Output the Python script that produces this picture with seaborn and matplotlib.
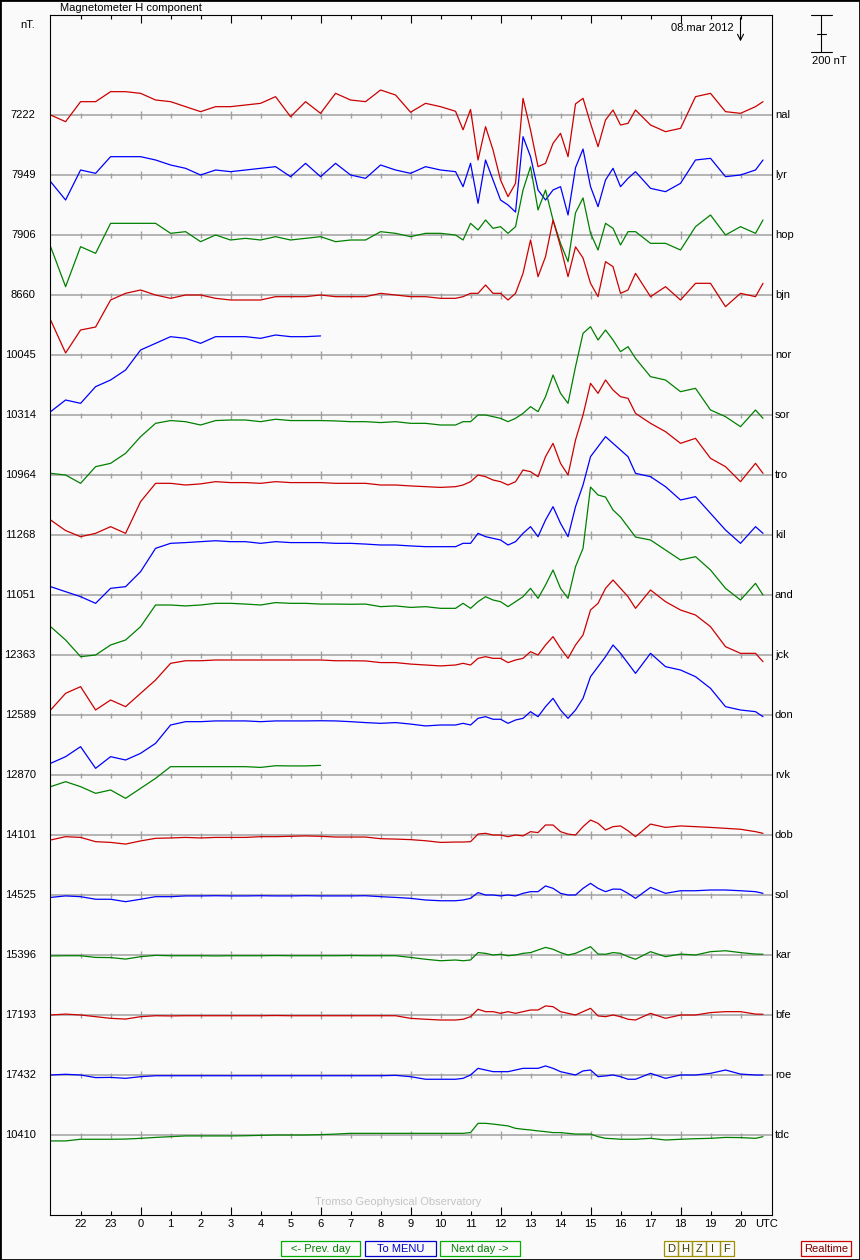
#!/usr/bin/env python3
"""
Magnetometer H component stack plot (Tromso style), 08.mar 2012
"""

import numpy as np
import pandas as pd
import matplotlib.pyplot as plt
import seaborn as sns
from matplotlib.patches import Rectangle

# Time axis: hours relative to 00 UTC 08.mar (-3 = 21 UTC the day before)
HOURS = np.concatenate([np.arange(-3, 10.75, 0.5), np.arange(10.75, 16.75, 0.25),
                        np.arange(17, 21, 0.5), [20.75]])

STATIONS = ['nal', 'lyr', 'hop', 'bjn', 'nor', 'sor', 'tro', 'kil', 'and',
            'jck', 'don', 'rvk', 'dob', 'sol', 'kar', 'bfe', 'roe', 'tdc']
BASELINES = [7222, 7949, 7906, 8660, 10045, 10314, 10964, 11268, 11051,
             12363, 12589, 12870, 14101, 14525, 15396, 17193, 17432, 10410]

# deviations from baseline (nT)
nal = ([0, -36, 72, 72, 126, 126, 117, 81, 72, 45, 18, 45, 45, 54, 63, 99, -9, 72, 9, 117, 81, 72, 135, 108, 15, 63, 45, 20]
       + [-80, 30, -243, -63, -189, -351, -441, -369, 90, -81, -279, -261, -153, -99, -225, 60, 90, -45, -171, -27, 27, -54, -45, 27]
       + [-54, -90, -72, 99, 117, 18, 9, 45] + [72])
lyr = ([-36, -135, 27, 9, 99, 99, 99, 81, 54, 36, 0, 27, 18, 27, 36, 45, -9, 63, -9, 63, 0, -18, 54, 27, 9, 45, 27, 18]
       + [-63, 63, -153, 81, -27, -135, -162, -200, 207, 99, -81, -135, -81, -63, -216, 40, 140, -63, -171, -27, 36, -63, -18, 18]
       + [-72, -90, -45, 81, 90, -9, 0, 27] + [81])
hop = ([-63, -279, -63, -99, 63, 63, 63, 63, 9, 18, -36, 0, -27, -18, -27, -9, -27, -18, -9, -36, -27, -27, 18, 9, -9, 9, 9, 0]
       + [-27, 63, 27, 81, 36, 45, 9, 45, 243, 369, 135, 243, 81, -45, -144, 120, 200, 9, -81, 63, 36, -54, 18, 18]
       + [-45, -45, -81, 45, 108, 0, 45, 9] + [81])
bjn = ([-135, -313, -189, -173, -27, 9, 27, 0, -18, 0, 0, -18, -27, -27, -27, -9, -9, -9, 0, -9, -9, -9, 9, 0, -9, -9, -18, -18]
       + [-9, 9, 9, 54, 9, 9, -27, 9, 117, 297, 99, 207, 405, 261, 99, 260, 200, 63, -9, 180, 153, 9, 27, 117]
       + [-9, 45, -27, 63, 63, -63, 9, -9] + [63])
nor = [-306, -243, -261, -171, -135, -81, 27, 63, 99, 90, 63, 99, 99, 99, 90, 108, 99, 99, 103]
sor = ([-315, -324, -369, -279, -261, -207, -117, -45, -30, -36, -54, -30, -27, -27, -36, -23, -30, -30, -30, -32, -36, -36, -41, -36, -45, -45, -54, -54]
       + [-36, -36, 0, 0, -9, -18, -36, -18, 9, 45, 18, 99, 216, 117, 63, 261, 441, 477, 405, 459, 405, 342, 369, 306]
       + [207, 189, 126, 144, 27, -9, -63, 27] + [-18])
tro = ([-243, -300, -333, -315, -279, -315, -144, -45, -45, -54, -48, -36, -41, -41, -45, -36, -41, -41, -41, -45, -45, -45, -54, -54, -59, -63, -67, -63]
       + [-54, -36, 0, -9, -27, -36, -54, -36, 27, 18, -9, 99, 171, 63, 0, 189, 324, 495, 441, 513, 459, 423, 414, 333]
       + [279, 234, 171, 198, 90, 45, -36, 63] + [9])
kil = ([-279, -306, -333, -369, -288, -279, -198, -72, -45, -41, -36, -31, -36, -36, -45, -36, -41, -41, -41, -45, -45, -49, -54, -54, -59, -63, -63, -63]
       + [-45, -45, 9, -9, -18, -27, -54, -36, 9, 45, -9, 81, 153, 63, -9, 153, 270, 423, 477, 531, 495, 459, 423, 333]
       + [315, 261, 189, 207, 117, 27, -45, 45] + [9])
and_ = ([-171, -243, -333, -324, -270, -243, -171, -54, -54, -59, -54, -45, -45, -49, -54, -41, -45, -45, -49, -49, -50, -49, -63, -59, -67, -63, -72, -72]
        + [-45, -72, -36, -9, -27, -36, -63, -36, -9, 36, -18, 54, 135, 36, -18, 153, 252, 583, 540, 529, 459, 421, 367, 313]
        + [297, 243, 189, 207, 135, 36, -27, 63] + [0])
jck = ([-297, -207, -171, -297, -243, -279, -207, -135, -45, -31, -31, -27, -27, -27, -27, -27, -27, -27, -27, -31, -31, -32, -41, -41, -49, -54, -59, -54]
       + [-45, -54, -18, -9, -18, -18, -41, -27, -18, 18, 0, 54, 99, 36, -18, 54, 108, 243, 279, 360, 405, 360, 315, 252]
       + [351, 288, 243, 216, 153, 45, 9, 9] + [-36])
don = ([-261, -225, -171, -288, -225, -243, -207, -153, -54, -36, -36, -32, -32, -32, -36, -32, -32, -32, -31, -32, -36, -41, -45, -41, -49, -59, -54, -54]
       + [-45, -54, -18, -9, -23, -23, -45, -27, -18, 18, -9, 45, 90, 27, -18, 27, 90, 207, 261, 315, 378, 333, 279, 225]
       + [333, 261, 243, 207, 144, 45, 27, 18] + [-9])
rvk = [-63, -36, -63, -99, -81, -126, -72, -18, 45, 45, 45, 45, 45, 45, 41, 50, 49, 49, 52]
dob = ([-27, -9, -13, -36, -40, -49, -32, -18, -16, -13, -16, -13, -13, -13, -9, -9, -7, -5, -7, -11, -11, -11, -20, -22, -25, -31, -40, -38]
       + [-38, -36, 5, 9, 0, 0, -9, 0, -5, 18, 13, 54, 54, 18, 5, 0, 45, 81, 63, 27, 45, 49, 23, -9]
       + [59, 41, 49, 45, 41, 36, 31, 18] + [9])
sol = ([-13, -5, -9, -23, -23, -36, -23, -9, -9, -5, -5, -4, -5, -5, -4, -5, -5, -4, -5, -5, -5, -4, -9, -13, -18, -27, -31, -31]
       + [-27, -18, 13, 0, 0, -5, 0, -5, 9, 18, 18, 49, 36, 9, 0, 0, 36, 63, 36, 18, 32, 31, 9, -18]
       + [41, 9, 23, 23, 27, 27, 23, 18] + [9])
kar = ([-5, -4, -4, -13, -14, -22, -9, -2, -4, -4, -4, -5, -4, -4, -4, -3, -4, -4, -4, -4, -3, -4, -4, -4, -13, -23, -31, -27]
       + [-31, -27, 13, 9, 0, 4, -4, 0, 9, 13, 27, 41, 31, 13, 0, 9, 27, 45, 5, 4, 13, 9, -9, -23]
       + [18, -9, 5, 0, 18, 23, 13, 5] + [4])
bfe = ([0, 5, 0, -9, -18, -22, -9, -4, -5, -4, -4, -4, -4, -4, -4, -3, -4, -4, -4, -4, -4, -4, -4, -4, -18, -23, -27, -27]
       + [-23, -9, 31, 18, 18, 9, 18, 9, 18, 27, 27, 49, 45, 18, 9, 0, 18, 36, -5, -9, 0, -9, -23, -27]
       + [9, -18, 0, 0, 13, 18, 18, 5] + [4])
roe = ([0, 4, 0, -14, -13, -18, -9, -4, -4, -4, -4, -4, -4, -4, -4, -4, -4, -4, -4, -4, -4, -4, -4, -2, -9, -23, -23, -23]
       + [-18, 0, 36, 27, 18, 18, 18, 27, 36, 36, 36, 49, 36, 18, 9, 0, 22, 27, -9, -5, 0, -9, -23, -23]
       + [9, -18, 0, 0, 9, 27, 5, 0] + [0])
tdc = ([-32, -32, -23, -23, -23, -22, -18, -13, -9, -5, -5, -5, -5, -4, -2, 0, 0, 0, 2, 5, 9, 9, 9, 9, 9, 9, 9, 9]
       + [9, 13, 63, 63, 59, 54, 49, 36, 31, 27, 22, 18, 13, 13, 9, 5, 5, 5, -9, -18, -20, -23, -23, -23]
       + [-18, -27, -23, -20, -18, -13, -14, -18] + [-9])

TRACES = [nal, lyr, hop, bjn, nor, sor, tro, kil, and_, jck, don, rvk, dob, sol, kar, bfe, roe, tdc]

HOUR_TICKS = list(range(-2, 21))
SCALE_NT = 200
DATE_LABEL = '08.mar 2012'
DATE_HOUR = 20

ROW_STEP = 324          # nT between two station baselines
TOP_MARGIN = 540        # nT above first baseline
BOTTOM_MARGIN = 432     # nT below last baseline
COLORS = ['#cc0000', '#0000ff', '#008000']
BG = '#fafafa'
GRID = '#a0a0a0'
FS = 8


def build_frame():
    parts = []
    for i, (name, vals) in enumerate(zip(STATIONS, TRACES)):
        vals = np.asarray(vals, dtype=float)
        parts.append(pd.DataFrame({'station': name,
                                   'hour': HOURS[:len(vals)],
                                   'y': vals - i * ROW_STEP}))
    return pd.concat(parts, ignore_index=True)


def button(fig, x0, x1, label, edge, fg):
    W, H = 860, 1260
    fig.add_artist(Rectangle((x0 / W, 1 - 1256 / H), (x1 - x0) / W, 15 / H,
                             transform=fig.transFigure, fill=False,
                             edgecolor=edge, lw=0.9))
    fig.text((x0 + x1) / 2 / W, 1 - 1248.5 / H, label, ha='center', va='center',
             color=fg, fontsize=FS)


def main():
    sns.set_theme(style='white')
    plt.rcParams['font.family'] = ['Liberation Sans', 'DejaVu Sans']

    fig = plt.figure(figsize=(8.6, 12.6), dpi=100, facecolor=BG)
    ax = fig.add_axes([50 / 860, 45 / 1260, 722 / 860, 1200 / 1260])
    ax.set_facecolor(BG)

    n = len(STATIONS)
    ymin = -(n - 1) * ROW_STEP - BOTTOM_MARGIN
    ymax = TOP_MARGIN

    # Baselines with hour ticks
    long_ticks = [h for h in HOUR_TICKS if h % 3 == 0]
    short_ticks = [h for h in HOUR_TICKS if h % 3 != 0]
    for i, (name, base) in enumerate(zip(STATIONS, BASELINES)):
        y0 = -i * ROW_STEP
        ax.axhline(y0, color=GRID, lw=1.1, zorder=1)
        ax.plot(short_ticks, [y0] * len(short_ticks), ls='none', marker='|',
                ms=3.6, mew=1.0, color=GRID, zorder=1)
        ax.plot(long_ticks, [y0] * len(long_ticks), ls='none', marker='|',
                ms=6.0, mew=1.0, color=GRID, zorder=1)
        ax.text(-3.5, y0, str(base), ha='right', va='center', fontsize=FS,
                color='black', clip_on=False)
        ax.text(21.15, y0, name, ha='left', va='center', fontsize=FS,
                color='black', clip_on=False)

    # Traces
    df = build_frame()
    palette = {s: COLORS[i % 3] for i, s in enumerate(STATIONS)}
    sns.lineplot(data=df, x='hour', y='y', hue='station', palette=palette,
                 estimator=None, sort=False, legend=False, lw=0.9, ax=ax, zorder=2)

    ax.set_xlim(-3.02, 21.05)
    ax.set_ylim(ymin, ymax)
    ax.set_xlabel('')
    ax.set_ylabel('')
    ax.set_yticks([])

    ax.set_xticks(long_ticks, [str(h % 24) for h in long_ticks])
    ax.set_xticks(short_ticks, [str(h % 24) for h in short_ticks], minor=True)
    ax.tick_params(axis='x', which='both', direction='in', top=True, bottom=True,
                   labelsize=FS, pad=3, colors='black', width=0.8)
    ax.tick_params(axis='x', which='major', length=6)
    ax.tick_params(axis='x', which='minor', length=3.2)
    for sp in ax.spines.values():
        sp.set_visible(True)
        sp.set_color('black')
        sp.set_linewidth(0.8)

    ax.text(20.87, -0.0035, 'UTC', transform=ax.get_xaxis_transform(),
            ha='center', va='top', fontsize=FS, color='black')
    ax.text(8.57, 0.011, 'Tromso Geophysical Observatory', transform=ax.get_xaxis_transform(),
            ha='center', va='center', fontsize=FS, color='#c4c4c4')

    # Date and arrow at top
    ax.text(18.73, ymax - 70, DATE_LABEL, ha='center', va='center', fontsize=FS, color='black')
    ax.annotate('', xy=(DATE_HOUR, ymax - 157), xytext=(DATE_HOUR, ymax),
                arrowprops=dict(arrowstyle='->,head_length=0.35,head_width=0.18',
                                lw=0.8, color='black'), annotation_clip=False)

    # Scale bar (200 nT)
    xs = 22.7
    ax.plot([xs, xs], [ymax, ymax - SCALE_NT], color='black', lw=0.8, clip_on=False)
    ax.plot([xs - 0.35, xs + 0.35], [ymax, ymax], color='black', lw=0.8, clip_on=False)
    ax.plot([xs - 0.35, xs + 0.35], [ymax - SCALE_NT] * 2, color='black', lw=0.8, clip_on=False)
    ax.plot([xs - 0.15, xs + 0.15], [ymax - SCALE_NT / 2] * 2, color='black', lw=0.8, clip_on=False)
    ax.text(xs + 0.25, ymax - SCALE_NT - 50, f'{SCALE_NT} nT', ha='center', va='center',
            fontsize=FS, color='black', clip_on=False)

    fig.text(60 / 860, 1 - 8 / 1260, 'Magnetometer H component', ha='left', va='center',
             fontsize=FS, color='black')
    fig.text(20 / 860, 1 - 25 / 1260, 'nT.', ha='left', va='center', fontsize=FS, color='black')

    # Buttons at the bottom
    button(fig, 281, 360, '<- Prev. day', '#00b000', '#008000')
    button(fig, 365, 436, 'To MENU', '#0000cc', '#0000cc')
    button(fig, 440, 520, 'Next day ->', '#00b000', '#008000')
    for k, letter in enumerate('DHZIF'):
        button(fig, 664 + 14 * k, 678 + 14 * k, letter, '#a09000', '#403c00')
    button(fig, 801, 851, 'Realtime', '#cc0000', '#800000')

    fig.add_artist(Rectangle((0, 0), 1, 1, transform=fig.transFigure, fill=False,
                             edgecolor='black', lw=2))

    fig.savefig('out.png', dpi=100, facecolor=BG)
    plt.close(fig)


if __name__ == '__main__':
    main()
